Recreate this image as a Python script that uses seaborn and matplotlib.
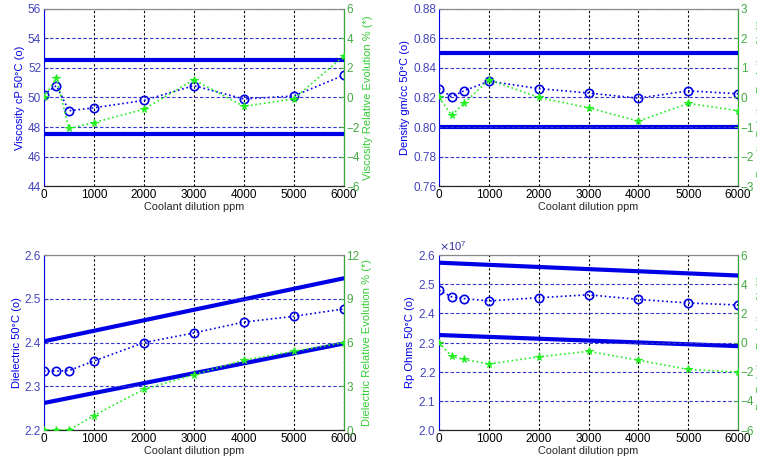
import numpy as np
import pandas as pd
import matplotlib
matplotlib.use("Agg")
import matplotlib.pyplot as plt
import seaborn as sns
from matplotlib.ticker import ScalarFormatter

sns.set_style("white")
plt.rcParams["font.family"] = ["Liberation Sans", "DejaVu Sans"]
plt.rcParams["font.size"] = 8

# Data

ppm = [0, 250, 500, 1000, 2000, 3000, 4000, 5000, 6000]

viscosity = [50.2, 50.8, 49.1, 49.3, 49.8, 50.8, 49.9, 50.1, 51.5]
viscosity_rel = [0, 1.3, -2.1, -1.7, -0.8, 1.2, -0.6, -0.1, 2.8]
viscosity_limits = [[52.55, 52.55], [47.5, 47.5]]

density = [0.826, 0.8205, 0.8245, 0.831, 0.826, 0.823, 0.8195, 0.8245, 0.8225]
density_rel = [0, -0.6, -0.2, 0.6, 0, -0.35, -0.8, -0.2, -0.45]
density_limits = [[0.85, 0.85], [0.80, 0.80]]

dielectric = [2.335, 2.335, 2.336, 2.358, 2.400, 2.422, 2.447, 2.460, 2.477]
dielectric_rel = [0, 0, 0, 1.0, 2.8, 3.8, 4.8, 5.4, 6.0]
dielectric_limits = [[2.403, 2.547], [2.262, 2.398]]

rp = [2.480e7, 2.457e7, 2.451e7, 2.443e7, 2.454e7, 2.464e7, 2.448e7, 2.436e7, 2.429e7]
rp_rel = [0, -0.93, -1.15, -1.47, -0.97, -0.6, -1.2, -1.84, -2.02]
rp_limits = [[2.574e7, 2.530e7], [2.326e7, 2.288e7]]

limit_x = [0, 6000]
xticks = [0, 1000, 2000, 3000, 4000, 5000, 6000]

BLUE = "#0000e6"
GREEN = "#22ee22"
TICK_BLUE = "#4444bb"
TICK_GREEN = "#44aa44"

panels = [
    dict(pos=[0.058, 0.598, 0.396, 0.383], y=viscosity, rel=viscosity_rel, lim=viscosity_limits,
         ylim=(44, 56), yticks=[44, 46, 48, 50, 52, 54, 56], rlim=(-6, 6), rticks=[-6, -4, -2, 0, 2, 4, 6],
         ylabel="Viscosity cP 50°C (o)", rlabel="Viscosity Relative Evolution % (*)"),
    dict(pos=[0.580, 0.598, 0.395, 0.383], y=density, rel=density_rel, lim=density_limits,
         ylim=(0.76, 0.88), yticks=[0.76, 0.78, 0.8, 0.82, 0.84, 0.86, 0.88], rlim=(-3, 3), rticks=[-3, -2, -1, 0, 1, 2, 3],
         ylabel="Density gm/cc 50°C (o)", rlabel="Density Relative Evolution % (*)"),
    dict(pos=[0.058, 0.071, 0.396, 0.378], y=dielectric, rel=dielectric_rel, lim=dielectric_limits,
         ylim=(2.2, 2.6), yticks=[2.2, 2.3, 2.4, 2.5, 2.6], rlim=(0, 12), rticks=[0, 3, 6, 9, 12],
         ylabel="Dielectric 50°C (o)", rlabel="Dielectric Relative Evolution % (*)"),
    dict(pos=[0.580, 0.071, 0.395, 0.378], y=rp, rel=rp_rel, lim=rp_limits,
         ylim=(2.0e7, 2.6e7), yticks=[2.0e7, 2.1e7, 2.2e7, 2.3e7, 2.4e7, 2.5e7, 2.6e7], rlim=(-6, 6), rticks=[-6, -4, -2, 0, 2, 4, 6],
         ylabel="Rp Ohms 50°C (o)", rlabel="Rp Relative Evolution % (*)"),
]

fig = plt.figure(figsize=(7.57, 4.63), dpi=100)

for p in panels:
    ax = fig.add_axes(p["pos"])
    ax2 = ax.twinx()

    # limit lines
    for lim in p["lim"]:
        sns.lineplot(x=limit_x, y=lim, ax=ax, color=BLUE, linewidth=3.0, zorder=3)

    sns.lineplot(x=ppm, y=p["y"], ax=ax, color=BLUE, linestyle=":", linewidth=1.2,
                 marker="o", markersize=6, markerfacecolor="none", markeredgecolor=BLUE,
                 markeredgewidth=1.2, zorder=4)
    sns.lineplot(x=ppm, y=p["rel"], ax=ax2, color=GREEN, linestyle=":", linewidth=1.2,
                 marker="*", markersize=5.5, markerfacecolor=GREEN, markeredgecolor=GREEN, zorder=4)

    ax.set_xlim(0, 6000)
    ax.set_xticks(xticks)
    ax.set_ylim(p["ylim"])
    ax.set_yticks(p["yticks"])
    ax2.set_ylim(p["rlim"])
    ax2.set_yticks(p["rticks"])

    ax.set_xlabel("Coolant dilution ppm", labelpad=1, fontsize=7.8)
    ax.set_ylabel(p["ylabel"], color=BLUE, labelpad=2)
    ax2.set_ylabel(p["rlabel"], color="#33cc33", labelpad=2)

    ax.grid(axis="x", color="black", linestyle=(0, (2, 2)), linewidth=0.8)
    ax2.grid(axis="y", color="#3333cc", linestyle=(0, (3, 2)), linewidth=0.8)
    ax.set_axisbelow(True)

    ax.tick_params(axis="y", colors=TICK_BLUE, direction="in", length=3, labelsize=8.5, pad=2)
    ax.tick_params(axis="x", colors="black", direction="in", length=3, labelsize=8.5, pad=2)
    ax2.tick_params(axis="y", colors=TICK_GREEN, direction="in", length=3, labelsize=8.5, pad=2)

    for s in ["left", "right", "top", "bottom"]:
        ax.spines[s].set_visible(True)
        ax2.spines[s].set_visible(True)
    ax.spines["left"].set_color(BLUE)
    ax.spines["bottom"].set_color("black")
    ax.spines["top"].set_color("#888888")
    ax2.spines["right"].set_color("#33aa33")
    ax2.spines["left"].set_visible(False)
    ax2.spines["top"].set_color("#888888")
    for s in ax.spines.values():
        s.set_linewidth(0.8)
    for s in ax2.spines.values():
        s.set_linewidth(0.8)

    if p["ylabel"].startswith("Rp"):
        fmt = ScalarFormatter(useMathText=True)
        fmt.set_powerlimits((0, 0))
        ax.yaxis.set_major_formatter(fmt)
        ax.yaxis.get_offset_text().set_color("#333399")

fig.savefig("out.png", dpi=100)
